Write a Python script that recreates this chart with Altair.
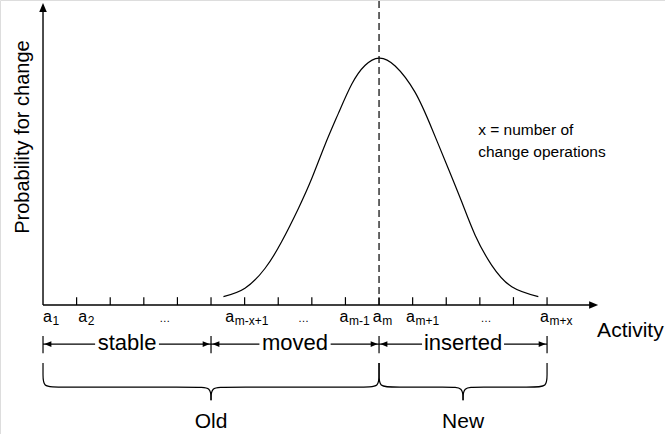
import altair as alt
import pandas as pd

W, H = 665, 434
FONT = "Liberation Sans"
INK = "black"

# x: activity position (one unit per activity), y: probability for change
X_DOMAIN = [-1.28, 18.51]
P_DOMAIN = [-0.522, 1.235]

TICKS = list(range(1, 16))
M_INDEX = 10            # position of a_m
AXIS_X_END = 16.52      # tip of the activity-axis arrow
AXIS_Y_END = 1.223      # tip of the probability-axis arrow
TICK_LEN = 0.032

# bell-shaped probability curve around a_m
CURVE_K = [5.37, 6.01, 6.61, 7.10, 7.60, 8.00, 8.39, 8.79, 9.19, 9.58, 10.0,
           10.48, 11.07, 11.57, 12.06, 12.46, 12.86, 13.35, 13.95, 14.74]
CURVE_P = [0.034, 0.068, 0.149, 0.256, 0.391, 0.513, 0.648, 0.776, 0.895, 0.970, 1.0,
           0.968, 0.862, 0.715, 0.553, 0.418, 0.283, 0.162, 0.074, 0.034]

# activity labels under the axis
LABEL_SUB = ["1", "2", "m-x+1", "m-1", "m", "m+1", "m+x"]
LABEL_K = [0.0, 1.05, 5.42, 8.82, 9.81, 10.80, 14.79]
ELLIPSIS_K = [3.62, 7.75, 13.18]

# ranges of activities
SPAN_NAMES = ["stable", "moved", "inserted"]
SPAN_START = [0, 5, 10]
SPAN_END = [5, 10, 15]
SPAN_GAP = [0.95, 1.06, 1.22]

GROUP_NAMES = ["Old", "New"]
GROUP_START = [0, 10]
GROUP_END = [10, 15]

NOTE_LINES = ["x = number of", "change operations"]
NOTE_K = 12.95
NOTE_P = [0.690, 0.601]

# vertical levels of the annotation rows below the axis
LABEL_ROW = -0.069
SPAN_ROW = -0.158
SPAN_BAR = (-0.125, -0.195)
SPAN_TEXT = -0.182
BRACE_TOP = -0.235
BRACE_MID = -0.332
BRACE_TIP = -0.385
BRACE_RX, BRACE_RY = 0.40, 0.05
GROUP_TEXT = -0.498

XS = alt.Scale(domain=X_DOMAIN, nice=False, zero=False)
YS = alt.Scale(domain=P_DOMAIN, nice=False, zero=False)


def ex(field="k"):
    return alt.X(f"{field}:Q", scale=XS, axis=None)


def ey(field="p"):
    return alt.Y(f"{field}:Q", scale=YS, axis=None)


def rules(df, **kw):
    return alt.Chart(df).mark_rule(color=INK, **kw).encode(
        x=ex("k"), x2=alt.X2("k2:Q"), y=ey("p"), y2=alt.Y2("p2:Q"))


def texts(df, size, **kw):
    return alt.Chart(df).mark_text(
        baseline="alphabetic", fontSize=size, color=INK, **kw).encode(
        x=ex(), y=ey(), text="t:N")


# arrowhead paths with the tip at the origin
HEAD_RIGHT = "M0,0 L-1,-0.42 L-1,0.42 Z"
HEAD_LEFT = "M0,0 L1,-0.42 L1,0.42 Z"
HEAD_UP = "M0,0 L-0.42,1 L0.42,1 Z"

# axes, ticks and the dashed marker at a_m
axes = rules(pd.DataFrame({"k": [0, 0], "k2": [0, AXIS_X_END - 0.2],
                           "p": [0, 0], "p2": [AXIS_Y_END - 0.03, 0]}), strokeWidth=1.4)
ticks = rules(pd.DataFrame({"k": TICKS, "k2": TICKS, "p": 0.0, "p2": TICK_LEN}),
              strokeWidth=1.2)
dashed = rules(pd.DataFrame({"k": [M_INDEX], "k2": [M_INDEX], "p": [0], "p2": [P_DOMAIN[1]]}),
               strokeWidth=1.2, strokeDash=[7, 4])

heads_rows = [{"k": AXIS_X_END, "p": 0, "shape": HEAD_RIGHT, "size": 4 * 9 ** 2},
              {"k": 0, "p": AXIS_Y_END, "shape": HEAD_UP, "size": 4 * 9 ** 2}]

curve = alt.Chart(pd.DataFrame({"k": CURVE_K, "p": CURVE_P})).mark_line(
    color=INK, strokeWidth=1.2, interpolate="natural").encode(x=ex(), y=ey())

# activity labels: "a" with a subscript
label_a = texts(pd.DataFrame({"k": LABEL_K, "p": LABEL_ROW, "t": "a"}), 16, align="left")
label_sub = texts(pd.DataFrame({"k": LABEL_K, "p": LABEL_ROW, "t": LABEL_SUB}), 12,
                  align="left", dx=9.5, dy=3)
ellipsis = texts(pd.DataFrame({"k": ELLIPSIS_K, "p": LABEL_ROW, "t": "\u2026"}), 11,
                 align="center")

# range arrows: stable / moved / inserted
seg_rows, bar_ks = [], []
for name, k0, k1, gap in zip(SPAN_NAMES, SPAN_START, SPAN_END, SPAN_GAP):
    mid = (k0 + k1) / 2
    seg_rows += [{"k": k0, "k2": mid - gap, "p": SPAN_ROW, "p2": SPAN_ROW},
                 {"k": mid + gap, "k2": k1, "p": SPAN_ROW, "p2": SPAN_ROW}]
    bar_ks += [k0, k1]
    heads_rows += [{"k": k0 + 0.04, "p": SPAN_ROW, "shape": HEAD_LEFT, "size": 4 * 7 ** 2},
                   {"k": k1 - 0.04, "p": SPAN_ROW, "shape": HEAD_RIGHT, "size": 4 * 7 ** 2}]
bar_ks = sorted(set(bar_ks))
span_lines = rules(pd.DataFrame(seg_rows), strokeWidth=1.2)
span_bars = rules(pd.DataFrame({"k": bar_ks, "k2": bar_ks,
                                "p": SPAN_BAR[0], "p2": SPAN_BAR[1]}), strokeWidth=1.2)
heads = alt.Chart(pd.DataFrame(heads_rows)).mark_point(
    filled=True, color=INK, opacity=1, strokeWidth=0).encode(
    x=ex(), y=ey(), shape=alt.Shape("shape:N", scale=None),
    size=alt.Size("size:Q", scale=None))

span_text = texts(pd.DataFrame({
    "k": [(a + b) / 2 for a, b in zip(SPAN_START, SPAN_END)], "p": SPAN_TEXT,
    "t": SPAN_NAMES}), 22, align="center")

# curly braces under Old / New
brace_rows = []
for name, k0, k1 in zip(GROUP_NAMES, GROUP_START, GROUP_END):
    kc = (k0 + k1) / 2
    for side, edge, sgn in (("l", k0, 1), ("r", k1, -1)):
        pts = [(edge, BRACE_TOP), (edge, BRACE_MID + BRACE_RY), (edge, BRACE_MID),
               (edge + sgn * BRACE_RX, BRACE_MID), (kc - sgn * BRACE_RX, BRACE_MID),
               (kc, BRACE_MID), (kc, BRACE_TIP)]
        for i, (k, p) in enumerate(pts):
            brace_rows.append({"part": f"{name}-{side}", "i": i, "k": k, "p": p})
braces = alt.Chart(pd.DataFrame(brace_rows)).mark_line(
    color=INK, strokeWidth=1.2, interpolate="basis").encode(
    x=ex(), y=ey(), detail="part:N", order="i:Q")

group_text = texts(pd.DataFrame({
    "k": [(a + b) / 2 for a, b in zip(GROUP_START, GROUP_END)], "p": GROUP_TEXT,
    "t": GROUP_NAMES}), 21, align="center")

# axis titles and note
x_title = texts(pd.DataFrame({"k": [16.49], "p": [-0.130], "t": ["Activity"]}), 21,
                align="left")
y_title = texts(pd.DataFrame({"k": [-0.43], "p": [0.68], "t": ["Probability for change"]}), 20,
                align="center", angle=270)
note = texts(pd.DataFrame({"k": NOTE_K, "p": NOTE_P, "t": NOTE_LINES}), 15.5, align="left")

chart = alt.layer(
    dashed, curve, ticks, axes, heads, label_a, label_sub, ellipsis,
    span_lines, span_bars, span_text, braces, group_text, x_title, y_title, note,
).properties(
    width=W, height=H, padding=0, autosize="none", background="white",
).configure_view(stroke=None).configure(font=FONT)

chart.save("out.html", embed_options={"renderer": "svg", "actions": False})
